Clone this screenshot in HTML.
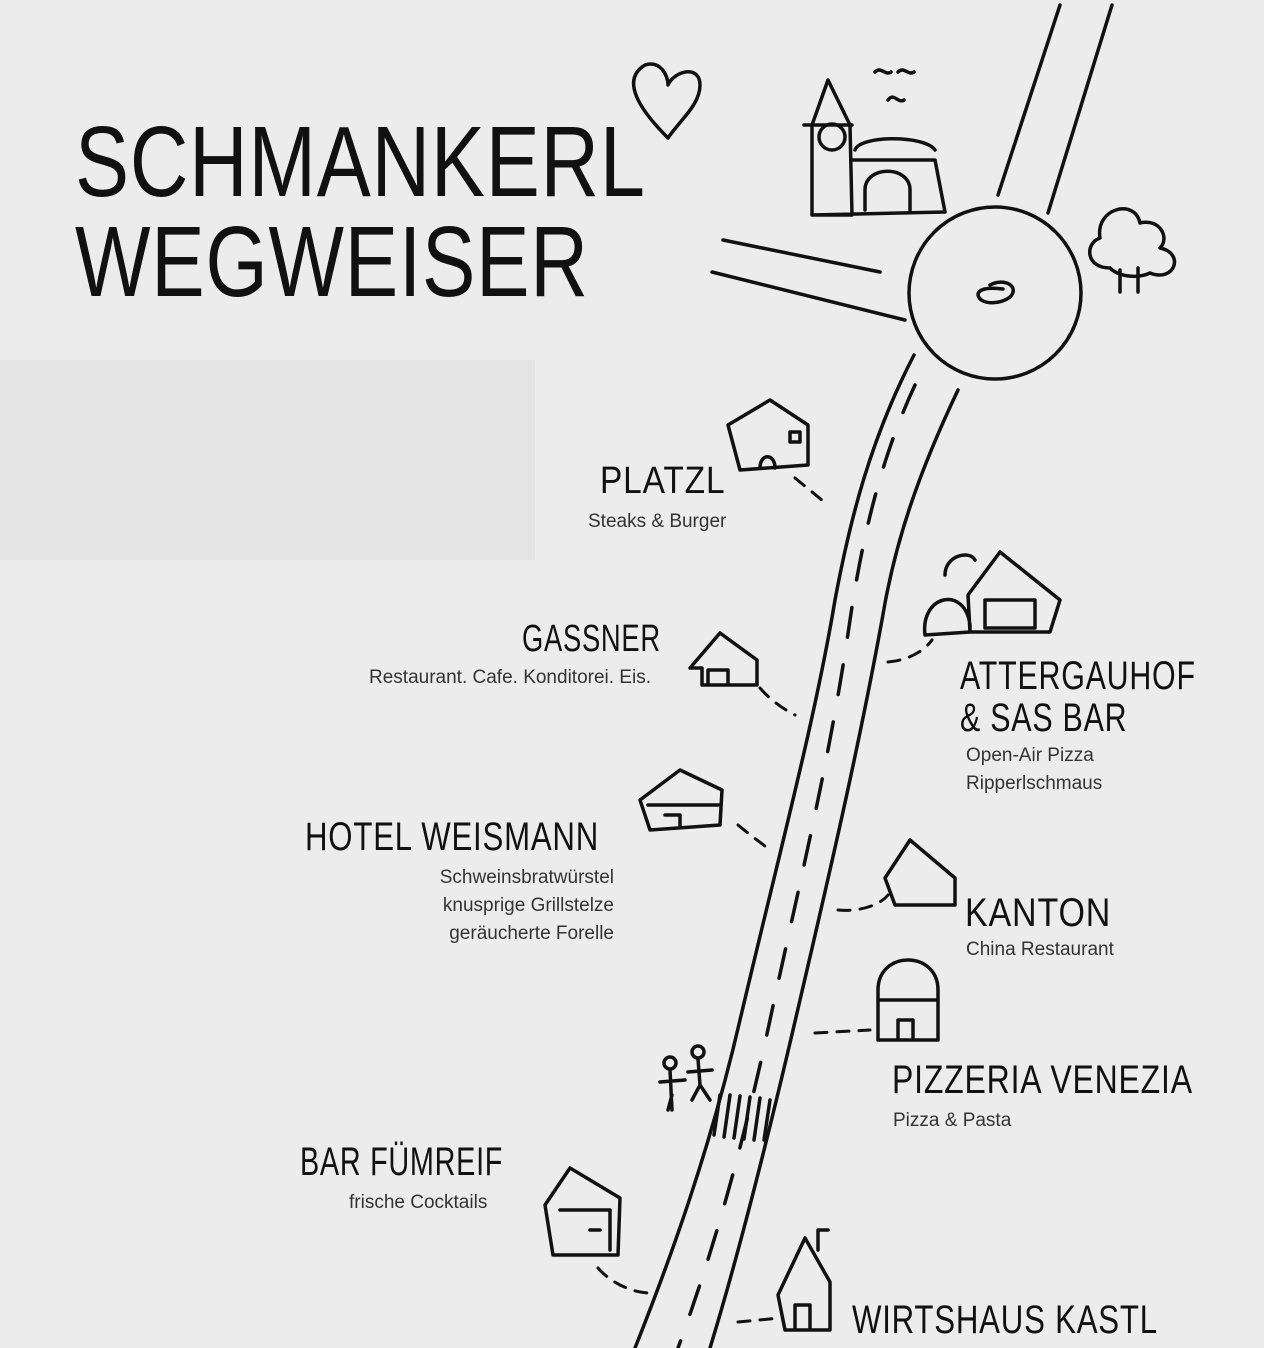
<!DOCTYPE html>
<html><head><meta charset="utf-8"><style>
body{margin:0;width:1264px;height:1348px;background:#ececec;overflow:hidden;position:relative;font-family:"Liberation Sans",sans-serif}
.h{position:absolute;font-family:"Liberation Sans",sans-serif;color:#111;letter-spacing:1px;white-space:nowrap;line-height:1;transform-origin:left top}
.s{position:absolute;font-size:19px;color:#333;white-space:nowrap;line-height:28px}
svg{position:absolute;left:0;top:0}
</style></head><body>
<svg width="1264" height="1348" fill="none" stroke="#111" stroke-width="3.5" stroke-linecap="round" stroke-linejoin="round">
<rect x="0" y="360" width="535" height="200" fill="#e4e4e4" stroke="none"/>
<path d="M998 195 L1060 5 M1048 213 L1112 5"/>
<path d="M723 240 L880 272 M712 272 L905 320"/>
<circle cx="995" cy="293" r="86"/>
<path d="M990 285 c15-8 30 2 20 12 c-10 8-30 8-32-2 c0-6 10-8 25-6"/>
<path d="M914 355 C870 440 850 520 835 600 C815 720 780 850 740 1020 C710 1150 670 1260 635 1348"/>
<path d="M958 390 C920 470 895 540 882 620 C860 740 835 850 800 1000 C770 1130 740 1250 710 1348"/>
<path d="M915 385 C880 460 862 540 850 620 C830 760 800 880 770 1020 C740 1160 710 1260 678 1348" stroke-dasharray="30 28"/>
<path d="M720 1095 l-6 40 M730 1095 l-6 42 M740 1096 l-6 42 M750 1097 l-6 42 M760 1098 l-6 42 M770 1100 l-6 40"/>
<path d="M812 215 L812 125 L828 80 L850 125 L852 215 Z M804 125 L852 125 M852 160 L935 160 L945 212 L812 215"/>
<circle cx="832" cy="137" r="13"/>
<path d="M855 150 c5-15 70-15 80 0 M865 210 L865 190 c0-25 45-25 45 0 L910 210"/>
<path d="M875 72 c6-6 10 4 16 0 M898 72 c6-6 10 4 16 0 M888 100 c6-8 10 4 16 0"/>
<path d="M668 138 C640 110 620 80 645 65 C660 60 668 75 668 85 C675 70 700 65 700 85 C700 105 680 120 668 138 Z"/>
<path d="M1120 292 L1120 270 M1138 292 L1138 268 M1110 268 c-25 0-25-25-10-30 c-5-30 35-40 40-15 c20-5 30 15 20 25 c25 5 15 35-10 25 c-10 5-30 5-40-5"/>
<path d="M728 425 L770 400 L808 425 L808 465 L740 470 Z M760 468 c0-15 15-15 15 0 M790 432 l10 0 l0 10 l-10 0z"/>
<path d="M690 668 L720 633 L757 660 L757 685 L702 685 L702 668 Z M708 685 L708 670 L728 670 L728 685"/>
<path d="M925 635 c-5-40 40-50 45-10 L970 632 Z M968 595 L1000 552 L1060 600 L1050 632 L970 632 Z M985 600 l50 0 l0 28 l-50 0z M945 575 c0-20 25-25 30-15"/>
<path d="M640 800 L680 770 L722 790 L720 825 L650 830 Z M648 805 L720 805 M665 815 l15 0 l0 10"/>
<path d="M885 878 L910 840 L955 878 L955 905 L895 905 Z"/>
<path d="M878 1040 L878 990 c0-40 60-40 60 0 L938 1040 Z M878 1000 L938 1000 M898 1040 l0-20 l15 0 l0 20"/>
<path d="M545 1205 L570 1168 L620 1198 L618 1255 L553 1255 Z M560 1210 l50 0 l0 40 M590 1230 l10 0"/>
<path d="M778 1295 L805 1238 L830 1282 L830 1330 L785 1330 Z M795 1330 l0-25 l15 0 l0 25 M818 1250 l0-20 l10 0"/>
<circle cx="670" cy="1063" r="6"/><path d="M670 1070 L672 1110 M660 1082 L685 1080 M672 1095 L668 1110"/>
<circle cx="698" cy="1052" r="6"/><path d="M698 1059 L700 1085 M688 1072 L712 1070 M700 1085 L692 1100 M700 1085 L710 1100"/>
<g stroke-dasharray="12 10" stroke-width="3">
<path d="M795 478 L828 505"/>
<path d="M760 688 C770 700 785 710 795 715"/>
<path d="M888 662 C910 660 925 650 932 640"/>
<path d="M738 825 C750 835 760 842 770 850"/>
<path d="M838 910 C860 912 880 905 888 895"/>
<path d="M815 1033 L870 1030"/>
<path d="M598 1268 C610 1282 630 1292 648 1293"/>
<path d="M738 1322 L780 1318"/>
</g>
</svg>
<div class="h" style="left:75px;top:112px;font-size:100px;transform:scaleX(.81)">SCHMANKERL</div>
<div class="h" style="left:75px;top:212px;font-size:100px;transform:scaleX(.8)">WEGWEISER</div>
<div class="h" style="left:600px;top:462px;font-size:38px;transform:scaleX(.88)">PLATZL</div>
<div class="s" style="left:588px;top:508px">Steaks &amp; Burger</div>
<div class="h" style="left:522px;top:620px;font-size:38px;transform:scaleX(.72)">GASSNER</div>
<div class="s" style="left:369px;top:664px">Restaurant. Cafe. Konditorei. Eis.</div>
<div class="h" style="left:960px;top:656px;font-size:40px;transform:scaleX(.76)">ATTERGAUHOF</div>
<div class="h" style="left:960px;top:698px;font-size:40px;transform:scaleX(.76)">&amp; SAS BAR</div>
<div class="s" style="left:966px;top:742px">Open-Air Pizza<br>Ripperlschmaus</div>
<div class="h" style="left:305px;top:817px;font-size:40px;transform:scaleX(.78)">HOTEL WEISMANN</div>
<div class="s" style="left:414px;top:864px;text-align:right;width:200px">Schweinsbratwürstel<br>knusprige Grillstelze<br>geräucherte Forelle</div>
<div class="h" style="left:965px;top:893px;font-size:40px;transform:scaleX(.85)">KANTON</div>
<div class="s" style="left:966px;top:936px">China Restaurant</div>
<div class="h" style="left:892px;top:1060px;font-size:40px;transform:scaleX(.8)">PIZZERIA VENEZIA</div>
<div class="s" style="left:893px;top:1107px">Pizza &amp; Pasta</div>
<div class="h" style="left:300px;top:1142px;font-size:40px;transform:scaleX(.72)">BAR FÜMREIF</div>
<div class="s" style="left:349px;top:1189px">frische Cocktails</div>
<div class="h" style="left:852px;top:1300px;font-size:40px;transform:scaleX(.78)">WIRTSHAUS KASTL</div>
</body></html>
